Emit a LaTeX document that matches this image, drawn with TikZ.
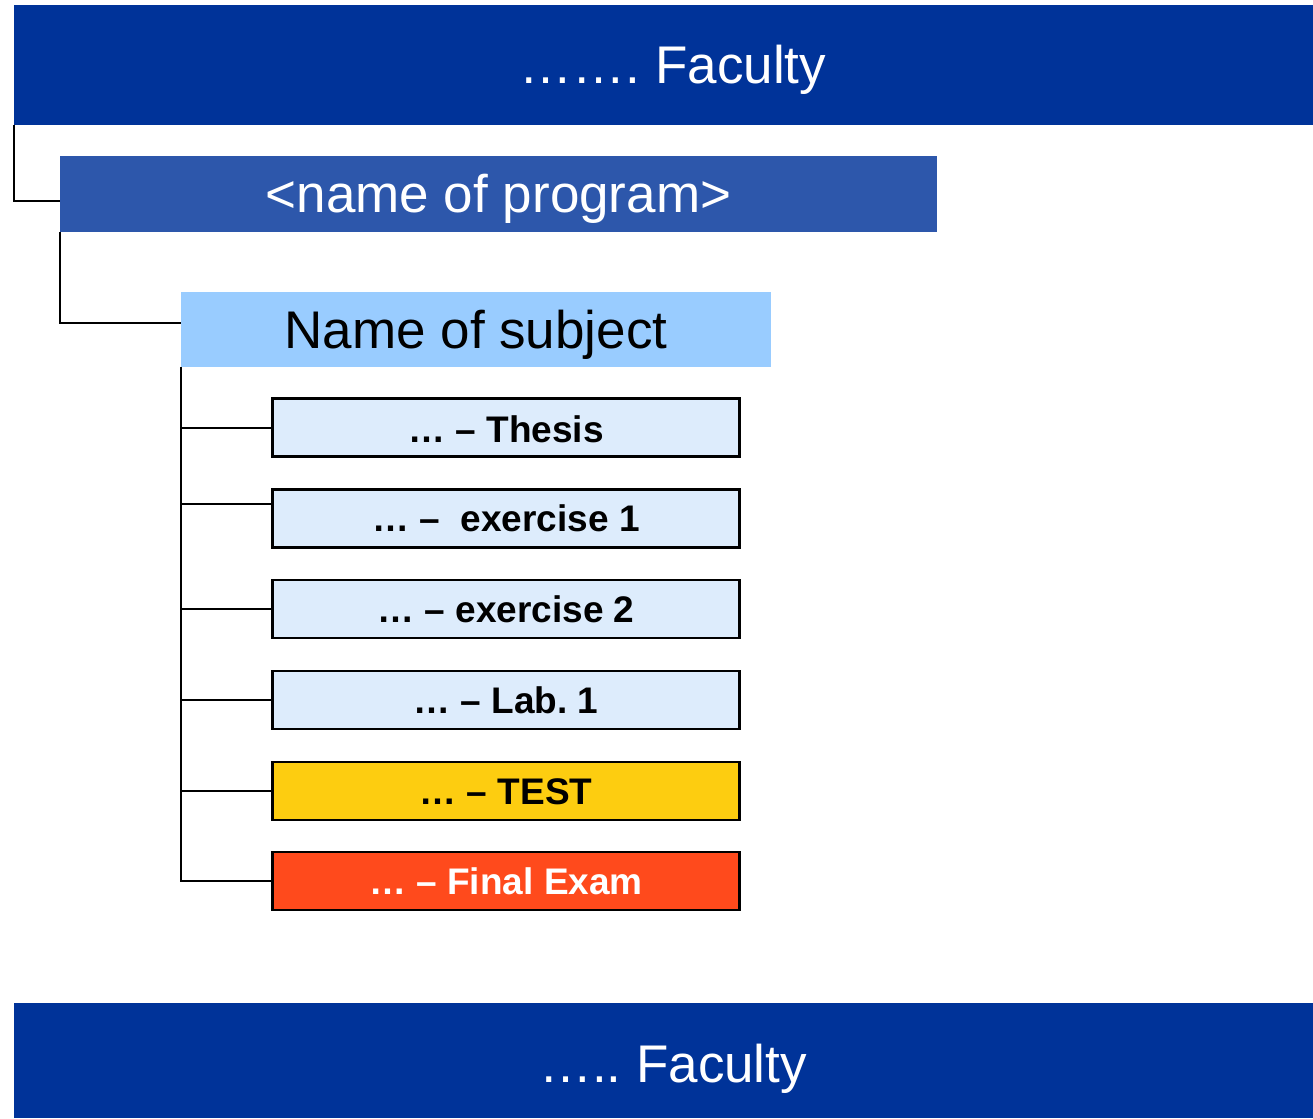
\documentclass[tikz,border=0pt]{standalone}
\usepackage{fontspec}
\setmainfont{Liberation Sans}
\frenchspacing
\definecolor{facblue}{RGB}{0,51,153}
\definecolor{progblue}{RGB}{45,87,171}
\definecolor{subjblue}{RGB}{153,204,255}
\definecolor{itemblue}{RGB}{221,236,252}
\definecolor{testyel}{RGB}{253,205,16}
\definecolor{examred}{RGB}{255,74,28}
\tikzset{
  bigtext/.style={font=\fontsize{53}{60}\selectfont, text height=37.9pt, text depth=0pt},
  bar/.style={bigtext, fill=facblue, text=white, inner sep=0pt, outer sep=0pt, minimum width=1299pt, minimum height=120pt},
  progbox/.style={bigtext, fill=progblue, text=white, inner sep=0pt, outer sep=0pt, minimum width=877pt, minimum height=76pt},
  subjbox/.style={bigtext, fill=subjblue, text=black, inner sep=0pt, outer sep=0pt, minimum width=590pt, minimum height=75pt},
  itembox/.style={draw=black, line width=2.5pt, fill=itemblue, text=black, inner sep=0pt, outer sep=0pt, minimum width=467pt, minimum height=58pt, font=\fontsize{37}{40}\selectfont\bfseries, text height=26.5pt, text depth=0pt},
  conn/.style={draw=black, line width=2pt}
}
\begin{document}
\begin{tikzpicture}[x=1pt,y=-1pt]
\useasboundingbox (0,0) rectangle (1313,1118);
\node[bar] (top) at (663.5,65) {\hspace*{19pt}……. Faculty};
\node[progbox] (prog) at (498.5,194) {<name of program>};
\node[subjbox] (subj) at (476,329.5) {Name of subject};
\node[itembox] (thesis) at (506,427.5) {\raisebox{-2pt}{… – Thesis}};
\node[itembox] (ex1) at (506,518.5) {… – \ exercise 1};
\node[itembox] (ex2) at (506,609) {… – exercise 2};
\node[itembox] (lab) at (506,700) {… – Lab. 1};
\node[itembox, fill=testyel] (test) at (506,791) {… – TEST};
\node[itembox, fill=examred, text=white] (final) at (506,881) {… – Final Exam};
\node[bar, minimum height=115pt] (bottom) at (663.5,1060.5) {\hspace*{19pt}\raisebox{-3pt}{….. Faculty}};
\draw[conn] (top.south west) |- ([yshift=-7pt]prog.west);
\draw[conn] (prog.south west) |- ([yshift=7pt]subj.west);
\draw[conn] (subj.south west) |- (final.west);
\draw[conn] (subj.south west |- thesis.west) -- (thesis.west);
\draw[conn] (subj.south west |- ex1.west) ++(0,-15) -- ([yshift=15pt]ex1.west);
\draw[conn] (subj.south west |- ex2.west) -- (ex2.west);
\draw[conn] (subj.south west |- lab.west) -- (lab.west);
\draw[conn] (subj.south west |- test.west) -- (test.west);
\end{tikzpicture}
\end{document}
